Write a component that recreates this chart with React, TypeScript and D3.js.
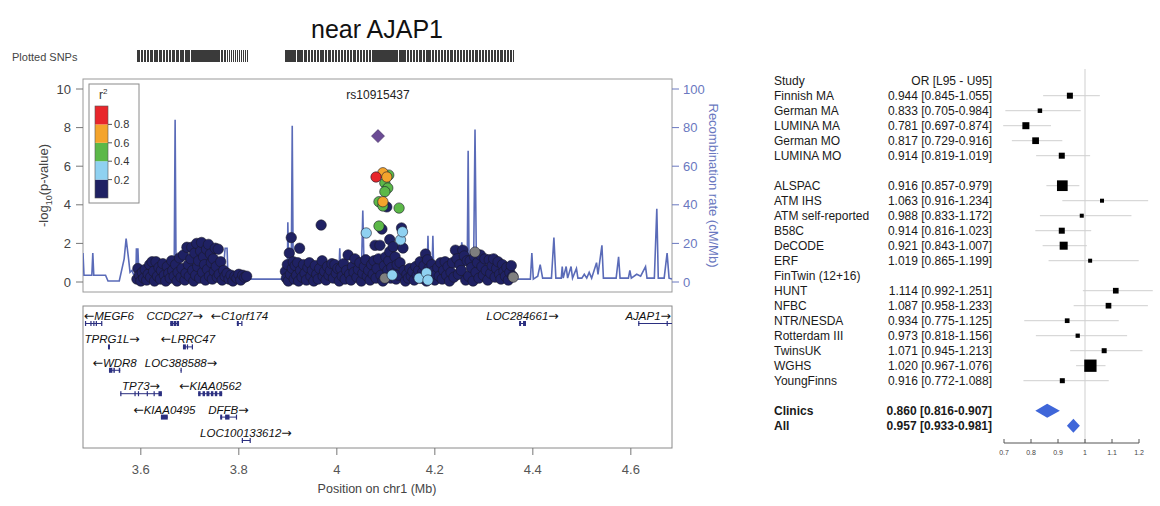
import React from 'react';
import * as d3 from 'd3';

// ---------- regional association plot data ----------
const chartTitle = 'near AJAP1';
const leadSnp = { name: 'rs10915437', pos: 4.084, logp: 7.56 };

// [position (Mb), -log10 p]
const snpsNavy: [number, number][] = [
  [3.592, 0.15], [3.594, 0.7], [3.597, 0.35], [3.600, 0.05], [3.603, 0.5], [3.606, 0.2], [3.609, 0.65], [3.612, 0.1],
  [3.615, 0.4], [3.618, 0.9], [3.620, 0.25], [3.623, 1.05], [3.626, 0.55], [3.628, 0.05], [3.631, 1.05], [3.634, 0.3],
  [3.637, 0.75], [3.640, 0.15], [3.642, 0.6], [3.645, 0.95], [3.648, 0.35], [3.651, 0.05], [3.654, 0.8], [3.657, 0.45],
  [3.660, 0.2], [3.663, 1.1], [3.665, 0.6], [3.668, 0.3], [3.671, 0.9], [3.674, 0.05], [3.676, 0.5], [3.679, 1.25],
  [3.682, 0.25], [3.684, 0.7], [3.687, 1.4], [3.690, 0.1], [3.692, 0.45], [3.694, 1.8], [3.697, 0.9], [3.699, 0.3],
  [3.702, 1.2], [3.704, 1.8], [3.706, 0.6], [3.708, 0.05], [3.710, 1.5], [3.712, 0.35], [3.714, 2.0], [3.716, 0.8],
  [3.718, 1.1], [3.720, 0.2], [3.722, 1.6], [3.724, 2.05], [3.726, 0.5], [3.728, 1.3], [3.730, 0.9], [3.732, 0.1],
  [3.734, 1.7], [3.736, 0.65], [3.738, 1.95], [3.740, 0.3], [3.742, 1.45], [3.744, 1.0], [3.746, 0.15], [3.748, 1.2],
  [3.750, 0.55], [3.752, 1.75], [3.754, 0.8], [3.756, 0.25], [3.758, 1.7], [3.760, 0.4], [3.763, 1.05], [3.766, 0.1],
  [3.769, 0.6], [3.772, 0.3], [3.776, 0.45], [3.780, 0.15], [3.784, 0.35], [3.788, 0.05], [3.792, 0.3], [3.796, 0.2],
  [3.800, 0.4], [3.804, 0.1], [3.808, 0.35], [3.812, 0.25], [3.816, 0.3],
  [3.895, 0.55], [3.897, 0.2], [3.899, 0.9], [3.901, 0.05], [3.903, 1.5], [3.905, 0.4], [3.907, 2.3], [3.909, 0.7],
  [3.911, 1.05], [3.913, 0.15], [3.915, 0.85], [3.918, 0.35], [3.920, 1.0], [3.922, 0.05], [3.924, 1.75], [3.926, 0.6],
  [3.929, 0.25], [3.932, 0.9], [3.935, 0.45], [3.938, 0.1], [3.941, 0.75], [3.944, 1.0], [3.947, 0.3], [3.950, 0.6],
  [3.953, 0.05], [3.956, 0.85], [3.959, 0.4], [3.962, 0.15], [3.965, 0.7], [3.968, 2.95], [3.970, 1.1], [3.972, 0.3],
  [3.975, 0.55], [3.978, 0.1], [3.981, 0.8], [3.984, 0.35], [3.987, 0.6], [3.990, 0.95], [3.993, 0.2], [3.996, 0.9],
  [3.999, 0.45], [4.002, 0.7], [4.005, 0.05], [4.008, 0.7], [4.011, 0.3], [4.014, 0.95], [4.017, 0.15], [4.020, 0.6],
  [4.023, 1.4], [4.026, 0.4], [4.029, 0.1], [4.032, 0.8], [4.035, 0.5], [4.037, 1.2], [4.041, 0.25], [4.044, 0.65],
  [4.047, 1.0], [4.050, 0.05], [4.053, 0.45], [4.056, 0.8], [4.059, 1.15], [4.062, 0.3], [4.065, 0.6], [4.068, 0.1],
  [4.071, 0.9], [4.074, 0.4], [4.076, 1.1], [4.078, 1.9], [4.080, 0.2], [4.082, 0.7], [4.085, 1.2], [4.088, 1.9],
  [4.090, 0.35], [4.092, 2.74], [4.094, 0.05], [4.097, 0.85], [4.100, 1.3], [4.102, 3.89], [4.104, 0.6], [4.106, 1.1],
  [4.108, 2.2], [4.108, 1.57], [4.110, 0.2], [4.112, 0.75], [4.115, 1.83], [4.117, 0.45], [4.119, 1.3], [4.121, 0.15],
  [4.123, 0.9], [4.126, 0.35], [4.129, 1.0], [4.132, 2.8], [4.135, 1.76], [4.137, 0.6], [4.140, 0.05], [4.143, 0.4],
  [4.146, 0.2], [4.149, 0.7], [4.152, 0.3], [4.155, 0.55], [4.158, 0.1], [4.161, 0.8], [4.164, 0.35], [4.167, 0.6],
  [4.170, 1.05], [4.172, 0.2], [4.175, 0.5], [4.178, 0.85], [4.181, 1.45], [4.183, 0.05], [4.185, 1.15], [4.188, 0.7],
  [4.191, 0.25], [4.194, 0.9], [4.197, 0.55], [4.200, 0.1], [4.203, 0.4], [4.206, 0.75], [4.209, 0.3], [4.212, 1.0],
  [4.215, 0.15], [4.218, 0.6], [4.221, 1.05], [4.224, 0.35], [4.227, 0.8], [4.230, 0.05], [4.233, 0.5], [4.236, 1.0],
  [4.239, 0.25], [4.242, 1.65], [4.245, 1.2], [4.248, 0.4], [4.251, 0.9], [4.254, 0.6], [4.257, 1.65], [4.260, 1.35],
  [4.263, 0.1], [4.266, 1.1], [4.269, 0.3], [4.272, 1.1], [4.275, 0.75], [4.278, 0.05], [4.281, 1.3], [4.284, 0.5],
  [4.287, 1.0], [4.290, 0.2], [4.293, 1.4], [4.296, 0.8], [4.299, 0.35], [4.302, 1.2], [4.305, 0.6], [4.308, 0.1],
  [4.311, 1.15], [4.314, 0.45], [4.317, 0.85], [4.320, 1.2], [4.323, 0.25], [4.326, 0.7], [4.329, 1.05], [4.332, 0.4],
  [4.335, 0.15], [4.338, 0.9], [4.341, 0.55], [4.344, 0.3], [4.347, 0.75], [4.350, 0.1], [4.353, 0.5], [4.356, 0.85],
  [4.359, 0.3],
];
const snpsGrey: [number, number][] = [[4.098, 0.2], [4.282, 1.55], [4.360, 0.25]];
const snpsLightBlue: [number, number][] = [
  [4.060, 2.54], [4.130, 2.18], [4.134, 2.6], [4.113, 0.36], [4.168, 0.2], [4.183, 0.47], [4.186, 0.1],
];
const snpsGreen: [number, number][] = [
  [4.106, 5.54], [4.098, 5.13], [4.104, 4.87], [4.098, 4.68], [4.086, 4.16], [4.094, 3.94], [4.127, 3.83], [4.086, 2.9],
];
const snpsOrange: [number, number][] = [[4.094, 5.66], [4.102, 5.44], [4.094, 4.16]];
const snpsRed: [number, number][] = [[4.080, 5.44]];

// recombination rate [position (Mb), cM/Mb]
const recombRate: [number, number][] = [
  [3.482, 15], [3.484, 3.5], [3.500, 3.5], [3.502, 15], [3.504, 3.5], [3.528, 3.5], [3.533, 0.5], [3.556, 0.5],
  [3.566, 12], [3.570, 22.5], [3.575, 12], [3.578, 5], [3.582, 6], [3.585, 4], [3.590, 4], [3.591, 17.5],
  [3.593, 5], [3.594, 17.5], [3.596, 5], [3.620, 5], [3.640, 6], [3.668, 3], [3.670, 84], [3.672, 3],
  [3.700, 8], [3.720, 6], [3.740, 7], [3.768, 5], [3.772, 17.5], [3.776, 17.5], [3.778, 1.5], [3.897, 1.5],
  [3.899, 2], [3.900, 31], [3.902, 5], [3.907, 5], [3.909, 81], [3.911, 3], [3.960, 4], [3.990, 6],
  [4.004, 3], [4.006, 17.5], [4.008, 3], [4.050, 3], [4.053, 37], [4.056, 3], [4.120, 5], [4.184, 3],
  [4.186, 24], [4.188, 3], [4.194, 3], [4.196, 24], [4.198, 3], [4.250, 5], [4.255, 20.5], [4.260, 5],
  [4.266, 5], [4.268, 68], [4.270, 5], [4.279, 5], [4.282, 79], [4.285, 5], [4.330, 4], [4.362, 1.5],
  [4.395, 1.5], [4.398, 15], [4.401, 1.5], [4.410, 3], [4.415, 9], [4.420, 2], [4.438, 2], [4.443, 23],
  [4.447, 2], [4.458, 2], [4.460, 8], [4.462, 2], [4.468, 8], [4.471, 2], [4.478, 8], [4.481, 2],
  [4.489, 7], [4.492, 2], [4.500, 2], [4.505, 4], [4.510, 2], [4.515, 5], [4.520, 2], [4.530, 10],
  [4.533, 4], [4.541, 19], [4.544, 2], [4.570, 2], [4.575, 13], [4.578, 2], [4.595, 2], [4.598, 6],
  [4.601, 2], [4.612, 4], [4.620, 3], [4.630, 8], [4.633, 2], [4.648, 2], [4.653, 38], [4.656, 2],
  [4.668, 2], [4.674, 15], [4.678, 2], [4.684, 1.5],
];

const r2Breaks = ['0.2', '0.4', '0.6', '0.8'];
const r2Colors = ['#1f2163', '#8fd1f1', '#5cb848', '#f4a42c', '#e8262b'];
const posTicks = [3.6, 3.8, 4.0, 4.2, 4.4, 4.6];
const logpTicks = [0, 2, 4, 6, 8, 10];
const recombTicks = [0, 20, 40, 60, 80, 100];

// genes: name, start, end, strand, track row, exons
const geneNames = ['MEGF6', 'CCDC27', 'C1orf174', 'LOC284661', 'AJAP1', 'TPRG1L', 'LRRC47', 'WDR8', 'LOC388588',
  'TP73', 'KIAA0562', 'KIAA0495', 'DFFB', 'LOC100133612'];
const geneStart = [3.486, 3.660, 3.796, 4.372, 4.615, 3.533, 3.686, 3.535, 3.681, 3.558, 3.717, 3.641, 3.762, 3.806];
const geneEnd = [3.521, 3.678, 3.806, 4.386, 4.75, 3.537, 3.706, 3.558, 3.683, 3.643, 3.766, 3.655, 3.796, 3.823];
const geneStrand = [-1, 1, -1, 1, 1, 1, -1, -1, 1, 1, -1, -1, 1, 1];
const geneRow = [0, 0, 0, 0, 0, 1, 1, 2, 2, 3, 3, 4, 4, 5];
const geneExons: [number, number][][] = [
  [[3.486, 3.487], [3.497, 3.498], [3.503, 3.505], [3.508, 3.509], [3.519, 3.521]],
  [[3.660, 3.666], [3.667, 3.672], [3.673, 3.678]],
  [[3.796, 3.800], [3.805, 3.806]],
  [[4.372, 4.376], [4.380, 4.386]],
  [[4.615, 4.616], [4.673, 4.675]],
  [[3.533, 3.537]],
  [[3.686, 3.692], [3.694, 3.696], [3.704, 3.706]],
  [[3.535, 3.542], [3.544, 3.547], [3.555, 3.558]],
  [[3.681, 3.683]],
  [[3.558, 3.559], [3.587, 3.589], [3.594, 3.596], [3.612, 3.613], [3.626, 3.628], [3.636, 3.643]],
  [[3.717, 3.722], [3.726, 3.731], [3.734, 3.740], [3.743, 3.748], [3.751, 3.756], [3.760, 3.766]],
  [[3.641, 3.655]],
  [[3.762, 3.766], [3.772, 3.781], [3.794, 3.796]],
  [[3.806, 3.807], [3.822, 3.823]],
];

// ---------- forest plot data ----------
const studyNames = ['Finnish MA', 'German MA', 'LUMINA MA', 'German MO', 'LUMINA MO', '',
  'ALSPAC', 'ATM IHS', 'ATM self-reported', 'B58C', 'DeCODE', 'ERF', 'FinTwin (12+16)', 'HUNT', 'NFBC',
  'NTR/NESDA', 'Rotterdam III', 'TwinsUK', 'WGHS', 'YoungFinns'];
const studyOR = [0.944, 0.833, 0.781, 0.817, 0.914, null, 0.916, 1.063, 0.988, 0.914, 0.921, 1.019, null,
  1.114, 1.087, 0.934, 0.973, 1.071, 1.020, 0.916];
const studyL95 = [0.845, 0.705, 0.697, 0.729, 0.819, null, 0.857, 0.916, 0.833, 0.816, 0.843, 0.865, null,
  0.992, 0.958, 0.775, 0.818, 0.945, 0.967, 0.772];
const studyU95 = [1.055, 0.984, 0.874, 0.916, 1.019, null, 0.979, 1.234, 1.172, 1.023, 1.007, 1.199, null,
  1.251, 1.233, 1.125, 1.156, 1.213, 1.076, 1.088];
const studyWeight = [36, 20, 49, 45, 36, null, 114, 16, 16, 36, 64, 16, null, 32, 32, 22, 18, 25, 151, 25];
const summaryNames = ['Clinics', 'All'];
const summaryOR = [0.860, 0.957];
const summaryL95 = [0.816, 0.933];
const summaryU95 = [0.907, 0.981];
const orTicks = [0.7, 0.8, 0.9, 1.0, 1.1, 1.2];

const FONT = "'Liberation Sans', Arial, Helvetica, sans-serif";
const fmt = d3.format('.3f');

export default function App() {
  // locus plot geometry
  const L = 83, R = 672, top = 79, bottom = 292;
  const gTop = 306, gBottom = 448;
  const x = d3.scaleLinear().domain([3.482, 4.684]).range([L, R]);
  const yP = d3.scaleLinear().domain([0, 10]).range([282, 89]);
  const yR = d3.scaleLinear().domain([0, 100]).range([282, 89]);
  const recombLine = d3.line<[number, number]>().x(d => x(d[0])).y(d => yR(d[1]));
  const legY = d3.scaleLinear().domain([0, 1]).range([198, 106]);

  const allSnps = [...snpsNavy, ...snpsGrey, ...snpsLightBlue, ...snpsGreen, ...snpsOrange, ...snpsRed, [leadSnp.pos, leadSnp.logp]];
  const layers: { pts: [number, number][]; fill: string }[] = [
    { pts: snpsNavy, fill: r2Colors[0] },
    { pts: snpsGrey, fill: '#7f7f7f' },
    { pts: snpsLightBlue, fill: r2Colors[1] },
    { pts: snpsGreen, fill: r2Colors[2] },
    { pts: snpsOrange, fill: r2Colors[3] },
    { pts: snpsRed, fill: r2Colors[4] },
  ];

  const rowY = (r: number) => 316 + 23.4 * r;

  // forest geometry
  const fx = d3.scaleLinear().domain([0.7, 1.2]).range([1004, 1139]);
  const fy = d3.scaleLinear().domain([0, 23]).range([80.7, 425.7]);
  const boxSize = d3.scaleSqrt().domain([0, 151]).range([0, 12.3]);
  const axisY = 443;

  const ld = x(leadSnp.pos), ldY = yP(leadSnp.logp);

  return (
    <div>
      <style>{`body{margin:0;background:#fff}`}</style>
      <svg width={1160} height={506} style={{ display: 'block', fontFamily: FONT }}>
        <defs>
          <clipPath id="upperClip"><rect x={L} y={top} width={R - L} height={bottom - top} /></clipPath>
          <clipPath id="geneClip"><rect x={L} y={gTop} width={R - L} height={gBottom - gTop} /></clipPath>
        </defs>

        {/* title and plotted SNP rug */}
        <text x={377} y={38} textAnchor="middle" fontSize={25} fill="#111">{chartTitle}</text>
        <text x={12} y={61} fontSize={11} fill="#444">Plotted SNPs</text>
        <g stroke="#3a3a3a" strokeWidth={1} shapeRendering="crispEdges">
          {allSnps.map((d, i) => (
            <line key={i} x1={Math.round(x(d[0])) + 0.5} x2={Math.round(x(d[0])) + 0.5} y1={50} y2={62} />
          ))}
        </g>

        {/* upper panel */}
        <rect x={L} y={top} width={R - L} height={bottom - top} fill="#fff" stroke="#9a9a9a" />
        <g clipPath="url(#upperClip)">
          <path d={recombLine(recombRate) || ''} fill="none" stroke="#5a6bb8" strokeWidth={1.6} />
          {layers.map((layer, li) => (
            <g key={li}>
              {layer.pts.map((d, i) => (
                <circle key={i} cx={x(d[0])} cy={yP(d[1])} r={5.2} fill={layer.fill} stroke="#1a1a2a" strokeWidth={0.6} />
              ))}
            </g>
          ))}
          <path d={`M${ld},${ldY - 6.5}L${ld + 6.5},${ldY}L${ld},${ldY + 6.5}L${ld - 6.5},${ldY}Z`} fill="#6b4b95" stroke="#3d2a5a" strokeWidth={0.6} />
        </g>
        <text x={ld} y={99} textAnchor="middle" fontSize={12} fill="#222">{leadSnp.name}</text>

        {/* left axis */}
        <g fontSize={13} fill="#444">
          {logpTicks.map(t => (
            <g key={t}>
              <line x1={76} x2={L} y1={yP(t)} y2={yP(t)} stroke="#777" />
              <text x={71} y={yP(t) + 4.5} textAnchor="end">{t}</text>
            </g>
          ))}
        </g>
        <text transform={`translate(48,${(yP(0) + yP(10)) / 2}) rotate(-90)`} textAnchor="middle" fontSize={13} fill="#444">
          -log<tspan fontSize={9} dy={4}>10</tspan><tspan dy={-4}>(p-value)</tspan>
        </text>

        {/* right axis */}
        <g fontSize={13} fill="#6a78c0">
          {recombTicks.map(t => (
            <g key={t}>
              <line x1={R} x2={R + 7} y1={yR(t)} y2={yR(t)} stroke="#6a78c0" />
              <text x={R + 11} y={yR(t) + 4.5}>{t}</text>
            </g>
          ))}
        </g>
        <text transform={`translate(709,${(yR(0) + yR(100)) / 2}) rotate(90)`} textAnchor="middle" fontSize={13} fill="#6a78c0">
          Recombination rate (cM/Mb)
        </text>

        {/* r2 legend */}
        <rect x={89} y={84} width={50} height={119} fill="#fff" stroke="#8a8a8a" />
        <text x={99} y={99} fontSize={12} fill="#333">r<tspan fontSize={8} dy={-5}>2</tspan></text>
        {r2Colors.map((c, i) => (
          <rect key={c} x={95} y={legY((i + 1) / 5)} width={13} height={legY(i / 5) - legY((i + 1) / 5)} fill={c} />
        ))}
        <rect x={95} y={legY(1)} width={13} height={legY(0) - legY(1)} fill="none" stroke="#555" strokeWidth={0.6} />
        {r2Breaks.map((b, i) => (
          <g key={b}>
            <line x1={108} x2={112} y1={legY((i + 1) / 5)} y2={legY((i + 1) / 5)} stroke="#555" />
            <text x={114} y={legY((i + 1) / 5) + 4} fontSize={11} fill="#333">{b}</text>
          </g>
        ))}

        {/* gene panel */}
        <rect x={L} y={gTop} width={R - L} height={gBottom - gTop} fill="#fff" stroke="#8a8a8a" />
        <g clipPath="url(#geneClip)">
          {geneNames.map((name, i) => {
            const gy = rowY(geneRow[i]) + 7.5;
            const x0 = x(geneStart[i]), x1 = x(geneEnd[i]);
            return (
              <g key={name} fill="#2b2f80" stroke="#2b2f80">
                <line x1={x0} x2={x1} y1={gy} y2={gy} strokeWidth={1} />
                {geneExons[i].map((e, j) => (
                  <rect key={j} x={x(e[0])} y={gy - 2.5} width={Math.max(1.2, x(e[1]) - x(e[0]))} height={5} strokeWidth={0} />
                ))}
              </g>
            );
          })}
        </g>
        {geneNames.map((name, i) => {
          const minus = geneStrand[i] < 0;
          const w = name.length * 6.9 + 11;
          const mid = x((geneStart[i] + Math.min(geneEnd[i], 4.684)) / 2);
          const cx = Math.max(L + 3 + w / 2, Math.min(R - 1 - w / 2, mid));
          const arrow = (
            <tspan fontFamily="'DejaVu Sans', sans-serif" fontStyle="normal" fontSize={12.5}>{minus ? '\u2190' : '\u2192'}</tspan>
          );
          return (
            <text key={name} x={cx} y={rowY(geneRow[i]) + 4} textAnchor="middle" fontSize={11.5} fontStyle="italic" fill="#111">
              {minus && arrow}{name}{!minus && arrow}
            </text>
          );
        })}

        {/* position axis */}
        {posTicks.map(t => (
          <g key={t}>
            <line x1={x(t)} x2={x(t)} y1={gBottom} y2={gBottom + 7} stroke="#777" />
            <text x={x(t)} y={474} textAnchor="middle" fontSize={13} fill="#555">{d3.format('~g')(t)}</text>
          </g>
        ))}
        <text x={377} y={493} textAnchor="middle" fontSize={12.5} fill="#444">Position on chr1 (Mb)</text>

        {/* forest plot */}
        <g fontSize={12} fill="#1a1a1a">
          <text x={774} y={fy(0) + 4.3}>Study</text>
          <text x={992} y={fy(0) + 4.3} textAnchor="end">OR [L95 - U95]</text>
          {studyNames.map((n, i) => (
            <g key={i}>
              <text x={774} y={fy(i + 1) + 4.3}>{n}</text>
              {studyOR[i] != null && (
                <text x={992} y={fy(i + 1) + 4.3} textAnchor="end">
                  {`${fmt(studyOR[i] as number)} [${fmt(studyL95[i] as number)}-${fmt(studyU95[i] as number)}]`}
                </text>
              )}
            </g>
          ))}
          {summaryNames.map((n, i) => (
            <g key={n} fontWeight="bold">
              <text x={774} y={fy(22 + i) + 4.3}>{n}</text>
              <text x={992} y={fy(22 + i) + 4.3} textAnchor="end">
                {`${fmt(summaryOR[i])} [${fmt(summaryL95[i])}-${fmt(summaryU95[i])}]`}
              </text>
            </g>
          ))}
        </g>
        <line x1={fx(1)} x2={fx(1)} y1={69} y2={axisY} stroke="#cfcfcf" />
        {studyOR.map((v, i) => {
          if (v == null) return null;
          const cy = fy(i + 1);
          const s = boxSize(studyWeight[i] as number);
          return (
            <g key={i}>
              <line x1={fx(studyL95[i] as number)} x2={fx(studyU95[i] as number)} y1={cy} y2={cy} stroke="#cfcfcf" strokeWidth={1} />
              <rect x={fx(v) - s / 2} y={cy - s / 2} width={s} height={s} fill="#000" />
            </g>
          );
        })}
        {summaryOR.map((v, i) => {
          const cy = fy(22 + i);
          const h = 7;
          return (
            <path key={i}
              d={`M${fx(summaryL95[i])},${cy}L${fx(v)},${cy - h}L${fx(summaryU95[i])},${cy}L${fx(v)},${cy + h}Z`}
              fill="#3f66d9" />
          );
        })}
        <line x1={fx(0.7)} x2={fx(1.2)} y1={axisY} y2={axisY} stroke="#555" />
        {orTicks.map(t => (
          <g key={t}>
            <line x1={fx(t)} x2={fx(t)} y1={axisY - 4} y2={axisY} stroke="#555" />
            <text x={fx(t)} y={axisY + 12} textAnchor="middle" fontSize={7} fill="#444">{d3.format('~g')(t)}</text>
          </g>
        ))}
      </svg>
    </div>
  );
}
